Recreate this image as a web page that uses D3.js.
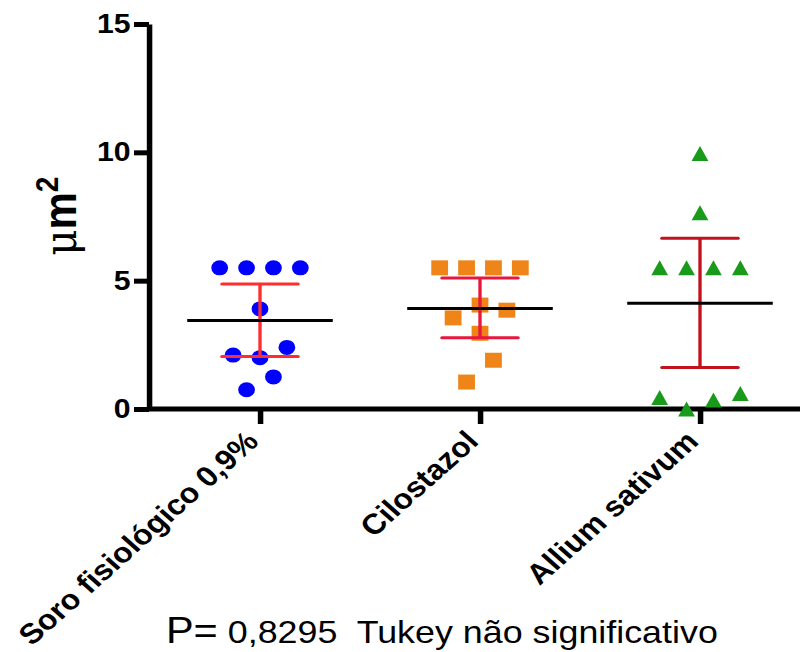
<!DOCTYPE html>
<html>
<head>
<meta charset="utf-8">
<script src="https://cdn.jsdelivr.net/npm/d3@7"></script>
<style>
  body { margin: 0; background: #fff; }
  text { font-family: "Liberation Sans", Arial, sans-serif; }
</style>
</head>
<body>
<script>
// values
var categories = ["Soro fisiológico 0,9%", "Cilostazol", "Allium sativum"];

var soroValues = [5.5, 5.5, 5.5, 5.5, 3.9, 2.1, 2.0, 2.4, 1.25, 0.75];
var soroSlots = [-1.5, -0.5, 0.5, 1.5, 0, -1, 0, 1, 0.5, -0.5];

var cilostazolValues = [5.5, 5.5, 5.5, 5.5, 4.05, 3.85, 3.55, 2.95, 1.9, 1.05];
var cilostazolSlots = [-1.5, -0.5, 0.5, 1.5, 0, 1, -1, 0, 0.5, -0.5];

var alliumValues = [9.95, 7.65, 5.5, 5.5, 5.5, 5.5, 0.45, 0, 0.35, 0.6];
var alliumSlots = [0, 0, -1.5, -0.5, 0.5, 1.5, -1.5, -0.5, 0.5, 1.5];

var means = [3.45, 3.92, 4.12];
var errLow = [2.05, 2.78, 1.62];
var errHigh = [4.87, 5.1, 6.65];

var yTicks = [0, 5, 10, 15];

var markColors = ["#0000ff", "#ef8418", "#1a9a1a"];
var errColors = ["#ff2d2d", "#e8173c", "#c1121f"];

var width = 800, height = 652;
var sx = 1.12; // the original is stretched sideways a little

var svg = d3.select("body").append("svg")
	.attr("width", width)
	.attr("height", height)
	.style("background", "#fff");

var g = svg.append("g")
	.attr("transform", "scale(" + sx + ",1)");

var innerW = width / sx;

var x = d3.scalePoint(categories, [260 / sx, 700 / sx]);
var y = d3.scaleLinear([0, 15], [409, 24]);
var slot = d3.scaleLinear([-1, 1], [-24, 24]);

var triangle = {
	draw: function(context, size) {
		var h = Math.sqrt(size) / 2;
		context.moveTo(0, -h);
		context.lineTo(h, h);
		context.lineTo(-h, h);
		context.closePath();
	}
};

var groups = [
	{values: soroValues, slots: soroSlots, type: d3.symbolCircle, size: Math.PI * 7.5 * 7.5},
	{values: cilostazolValues, slots: cilostazolSlots, type: d3.symbolSquare, size: 15 * 15},
	{values: alliumValues, slots: alliumSlots, type: triangle, size: 15 * 15}
];

// axes
var yAxis = g.append("g")
	.attr("transform", "translate(" + (149 / sx) + ",0)")
	.call(d3.axisLeft(y).tickValues(yTicks).tickSize(15 / sx).tickSizeOuter(0).tickPadding(3));
yAxis.select(".domain").attr("stroke-width", 5.5 / sx);
yAxis.selectAll(".tick line").attr("stroke-width", 5);
yAxis.selectAll(".tick text")
	.style("font-size", "27px")
	.style("font-weight", "bold")
	.attr("fill", "#000");

var xAxis = g.append("g")
	.attr("transform", "translate(0," + y(0) + ")")
	.call(d3.axisBottom(x).tickSize(15).tickFormat(""));
xAxis.select(".domain").remove();
xAxis.selectAll(".tick line").attr("stroke-width", 5.5 / sx);
xAxis.append("line")
	.attr("x1", 147 / sx)
	.attr("x2", innerW)
	.attr("stroke", "#000")
	.attr("stroke-width", 5);

g.append("g").selectAll("text")
	.data(categories)
	.enter().append("text")
	.attr("transform", function(d) { return "translate(" + x(d) + ",443) rotate(-45)"; })
	.attr("text-anchor", "end")
	.style("font-size", "28.5px")
	.style("font-weight", "bold")
	.text(function(d) { return d; });

// points
groups.forEach(function(grp, i) {
	var cx = x(categories[i]);
	g.append("g").selectAll("path")
		.data(grp.values)
		.enter().append("path")
		.attr("d", d3.symbol().type(grp.type).size(grp.size))
		.attr("transform", function(d, j) { return "translate(" + (cx + slot(grp.slots[j])) + "," + y(d) + ")"; })
		.attr("fill", markColors[i]);
});

// mean and error bars
var stats = g.append("g").selectAll("g")
	.data(categories)
	.enter().append("g")
	.attr("transform", function(d) { return "translate(" + x(d) + ",0)"; });

stats.append("line")
	.attr("x1", 0).attr("x2", 0)
	.attr("y1", function(d, i) { return y(errLow[i]); })
	.attr("y2", function(d, i) { return y(errHigh[i]); })
	.attr("stroke", function(d, i) { return errColors[i]; })
	.attr("stroke-width", 3);

[errLow, errHigh].forEach(function(arr) {
	stats.append("line")
		.attr("x1", -34).attr("x2", 34)
		.attr("y1", function(d, i) { return y(arr[i]); })
		.attr("y2", function(d, i) { return y(arr[i]); })
		.attr("stroke", function(d, i) { return errColors[i]; })
		.attr("stroke-width", 3)
		.attr("stroke-linecap", "round");
});

stats.append("line")
	.attr("x1", -65).attr("x2", 65)
	.attr("y1", function(d, i) { return y(means[i]); })
	.attr("y2", function(d, i) { return y(means[i]); })
	.attr("stroke", "#000")
	.attr("stroke-width", 3);

// y title
var yTitle = g.append("text")
	.attr("transform", "translate(" + (76 / sx) + ",216) rotate(-90)")
	.attr("text-anchor", "middle")
	.style("font-size", "42px");
yTitle.append("tspan").style("font-family", "'DejaVu Serif', serif").style("font-size", "40px").text("\u03bc");
yTitle.append("tspan").style("font-weight", "bold").text("m");
yTitle.append("tspan").style("font-weight", "bold").style("font-size", "28px").attr("dy", -16).text("2");

// footnote
var note = g.append("text")
	.attr("x", 166 / sx)
	.attr("y", 643)
	.style("white-space", "pre");
note.append("tspan").style("font-size", "37px").text("P=");
note.append("tspan").style("font-size", "32px").text(" 0,8295  Tukey não significativo");
</script>
</body>
</html>
